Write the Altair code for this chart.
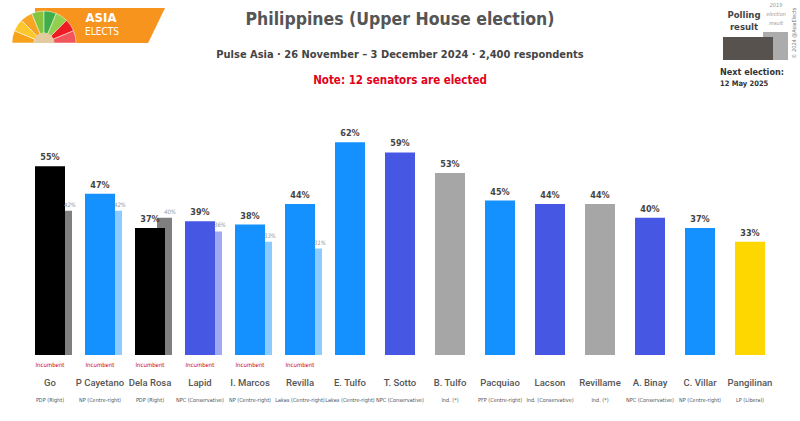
import altair as alt
import pandas as pd

names = ["Go", "P Cayetano", "Dela Rosa", "Lapid", "I. Marcos", "Revilla", "E. Tulfo", "T. Sotto",
         "B. Tulfo", "Pacquiao", "Lacson", "Revillame", "A. Binay", "C. Villar", "Pangilinan"]
parties = ["PDP (Right)", "NP (Centre-right)", "PDP (Right)", "NPC (Conservative)", "NP (Centre-right)",
           "Lakas (Centre-right)", "Lakas (Centre-right)", "NPC (Conservative)", "Ind. (*)",
           "PFP (Centre-right)", "Ind. (Conservative)", "Ind. (*)", "NPC (Conservative)",
           "NP (Centre-right)", "LP (Liberal)"]
values = [55, 47, 37, 39, 38, 44, 62, 59, 53, 45, 44, 44, 40, 37, 33]
values_2019 = [42, 42, 40, 36, 33, 31, None, None, None, None, None, None, None, None, None]
incumbent = [True, True, True, True, True, True, False, False, False, False, False, False, False, False, False]
colors = ["#000000", "#1590ff", "#000000", "#4657e3", "#1590ff", "#1590ff", "#1590ff", "#4657e3",
          "#a6a6a6", "#1590ff", "#4657e3", "#a6a6a6", "#4657e3", "#1590ff", "#ffd700"]
colors_2019 = ["#7f7f7f", "#8ccbff", "#7f7f7f", "#9ea8f3", "#8ccbff", "#8ccbff", None, None, None,
               None, None, None, None, None, None]

logo_slices = ["a", "b", "c", "d", "e", "f", "g", "h"]
logo_colors = ["#f7a21b", "#fcc72c", "#f6a623", "#86c440", "#3fae49", "#92cf4f", "#ed1c24", "#f2545b"]

FONT = "DejaVu Sans Condensed"
FONT_N = "Roboto"

df = pd.DataFrame({
    "name": names, "party": parties, "value": values, "v2019": values_2019,
    "inc": incumbent, "color": colors, "color2019": colors_2019,
})
df["label"] = df["value"].astype(str) + "%"
df2 = df.dropna(subset=["v2019"]).copy()
df2["label2019"] = df2["v2019"].astype(int).astype(str) + "%"
dfi = df[df["inc"]].copy()
dfi["inc_text"] = "Incumbent"

x = alt.X("name:N", sort=names, axis=None, scale=alt.Scale(paddingInner=0, paddingOuter=0))
y = alt.Y("value:Q", axis=None, scale=alt.Scale(domain=[0, 74]))

base = alt.Chart(df)

bars2019 = alt.Chart(df2).mark_bar(width=15, xOffset=14.5).encode(
    x=x,
    y=alt.Y("v2019:Q", axis=None, scale=alt.Scale(domain=[0, 74])),
    color=alt.Color("color2019:N", scale=None),
)
lab2019 = alt.Chart(df2).mark_text(dx=20, dy=-6, fontSize=6, fontStyle="italic", color="#999999", font=FONT).encode(
    x=x,
    y=alt.Y("v2019:Q", axis=None, scale=alt.Scale(domain=[0, 74])),
    text="label2019:N",
)
bars = base.mark_bar(width=30).encode(x=x, y=y, color=alt.Color("color:N", scale=None))
vlabels = base.mark_text(dy=-9, fontSize=9, fontWeight="bold", color="#444444", font=FONT).encode(
    x=x, y=y, text="label:N")
name_t = base.mark_text(fontSize=9.5, fontWeight=500, color="#555555", font=FONT_N).encode(
    x=x, y=alt.value(282), text="name:N")
party_t = base.mark_text(fontSize=5.5, color="#555555", font=FONT).encode(
    x=x, y=alt.value(299), text="party:N")
inc_t = alt.Chart(dfi).mark_text(fontSize=6, color="#cc0000", font=FONT).encode(
    x=x, y=alt.value(264), text="inc_text:N")

# header texts
title = alt.Chart(pd.DataFrame({"t": ["Philippines (Upper House election)"]})).mark_text(
    fontSize=17.5, fontWeight="bold", color="#555555", font=FONT).encode(
    x=alt.value(375), y=alt.value(-81), text="t:N")
subtitle = alt.Chart(pd.DataFrame({"t": ["Pulse Asia · 26 November – 3 December 2024 · 2,400 respondents"]})).mark_text(
    fontSize=11, fontWeight="bold", color="#444444", font=FONT).encode(
    x=alt.value(375), y=alt.value(-46), text="t:N")
note = alt.Chart(pd.DataFrame({"t": ["Note: 12 senators are elected"]})).mark_text(
    fontSize=11.5, fontWeight="bold", color="#e3001b", font=FONT).encode(
    x=alt.value(375), y=alt.value(-20), text="t:N")

# logo
para = alt.Chart(pd.DataFrame({"a": [1]})).mark_point(
    shape="M-1,-0.27L1,-0.27L0.74,0.27L-1,0.27Z", filled=True, size=16900, opacity=1,
    color="#f7941d", strokeWidth=0).encode(x=alt.value(75), y=alt.value(-75.5))
fan = alt.Chart(pd.DataFrame({"s": logo_slices, "c": logo_colors, "v": [1] * 8})).mark_arc(
    radius=32, radius2=10, stroke="#ffffff", strokeWidth=0.5).encode(
    theta=alt.Theta("v:Q", stack=True, scale=alt.Scale(range=[-1.5708, 1.5708])),
    color=alt.Color("c:N", scale=None),
    order=alt.Order("s:N"),
    x=alt.value(19), y=alt.value(-58))
fan_in = alt.Chart(pd.DataFrame({"v": [1]})).mark_arc(radius=10, color="#e3caa0").encode(
    theta=alt.Theta("v:Q", scale=alt.Scale(range=[-1.5708, 1.5708])),
    x=alt.value(19), y=alt.value(-58))
logo_t1 = alt.Chart(pd.DataFrame({"t": ["ASIA"]})).mark_text(
    fontSize=13, fontWeight="bold", color="#ffffff", font=FONT).encode(
    x=alt.value(76), y=alt.value(-83), text="t:N")
logo_t2 = alt.Chart(pd.DataFrame({"t": ["ELECTS"]})).mark_text(
    fontSize=10, color="#ffffff", font=FONT).encode(
    x=alt.value(77), y=alt.value(-69), text="t:N")

# legend
leg_light = alt.Chart(pd.DataFrame({"a": [1]})).mark_rect(color="#acacac").encode(
    x=alt.value(738), x2=alt.value(763), y=alt.value(-69), y2=alt.value(-41))
leg_dark = alt.Chart(pd.DataFrame({"a": [1]})).mark_rect(color="#57524d").encode(
    x=alt.value(698), x2=alt.value(748), y=alt.value(-64), y2=alt.value(-41))
leg_poll = alt.Chart(pd.DataFrame({"t": ["Polling", "result"], "yy": [-86, -74]})).mark_text(
    fontSize=9.5, fontWeight="bold", color="#444444", font=FONT).encode(
    x=alt.value(719), y=alt.Y("yy:Q", scale=None), text="t:N")
leg_2019 = alt.Chart(pd.DataFrame({"t": ["2019", "election", "result"], "yy": [-96, -87, -78]})).mark_text(
    fontSize=5.5, fontStyle="italic", color="#999999", font=FONT).encode(
    x=alt.value(751), y=alt.Y("yy:Q", scale=None), text="t:N")
copyright_t = alt.Chart(pd.DataFrame({"t": ["© 2024 @AsiaElects"]})).mark_text(
    fontSize=5.5, angle=270, color="#777777", font=FONT).encode(
    x=alt.value(769), y=alt.value(-68), text="t:N")
next_t = alt.Chart(pd.DataFrame({"t": ["Next election:", "12 May 2025"], "yy": [-29, -17], "fs": [9, 7.5]})).mark_text(
    align="left", fontWeight="bold", color="#333333", font=FONT).encode(
    x=alt.value(695), y=alt.Y("yy:Q", scale=None), text="t:N", size=alt.Size("fs:Q", scale=None, legend=None))

chart = alt.layer(
    bars2019, bars, lab2019, vlabels, name_t, party_t, inc_t,
    title, subtitle, note, para, fan, fan_in, logo_t1, logo_t2,
    leg_light, leg_dark, leg_poll, leg_2019, copyright_t, next_t,
).resolve_scale(color="independent", theta="independent").properties(
    width=750, height=254,
    autosize=alt.AutoSizeParams(type="none"),
    padding={"left": 25, "top": 101, "right": 25, "bottom": 66},
    background="#ffffff",
).configure_view(stroke=None)

chart.save("out.html", embed_options={"renderer": "svg", "actions": False})
